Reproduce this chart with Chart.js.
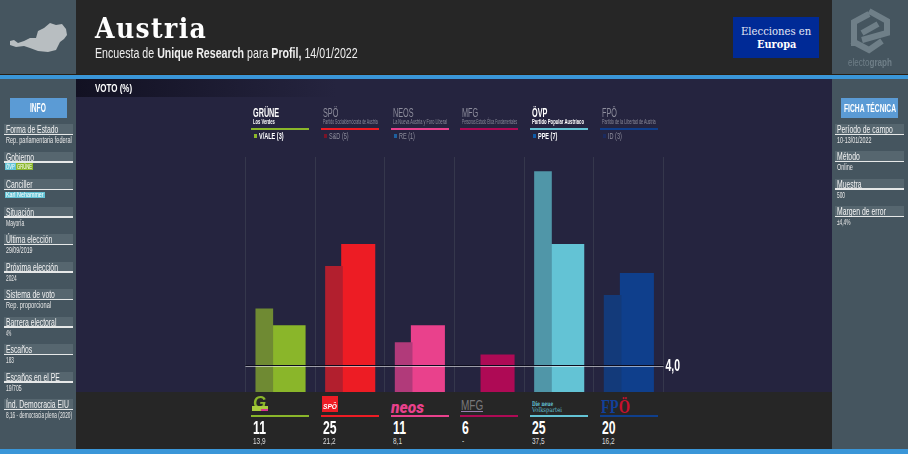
<!DOCTYPE html>
<html>
<head>
<meta charset="utf-8">
<script src="https://cdn.jsdelivr.net/npm/chart.js@4"></script>
<style>
html, body { margin: 0; padding: 0; background: #262626; }
#page { position: relative; width: 908px; height: 454px; overflow: hidden; font-family: "Liberation Sans", sans-serif; color: #fff; }
.box { position: absolute; }
.txt { position: absolute; white-space: nowrap; transform-origin: left center; }
canvas { position: absolute; left: 0; top: 0; }
svg { position: absolute; }
</style>
</head>
<body>
<div id="page">
  <div class="box" style="left:76px;top:79px;width:756px;height:313px;background:#25243f"></div>
  <div class="box" style="left:76px;top:79px;width:260px;height:18px;background:linear-gradient(90deg,#121122,#25243f)"></div>
  <canvas id="canvas" width="908" height="454"></canvas>
  <div class="box" style="left:76px;top:392px;width:756px;height:57px;background:#262626"></div>
  <div class="box" style="left:0;top:0;width:76px;height:449px;background:#45555f"></div>
  <div class="box" style="left:832px;top:0;width:76px;height:449px;background:#45555f"></div>
  <div class="box" style="left:0;top:74px;width:908px;height:1px;background:#2a1f12"></div>
  <div class="box" style="left:0;top:75px;width:908px;height:4px;background:#3a96d8"></div>
  <div class="box" style="left:0;top:449px;width:908px;height:5px;background:#3a96d8"></div>
  <svg style="left:0;top:0" width="76" height="75"><polygon fill="#b8bec1" points="10,41 14,40 18,43 24,41 30,38 36,38 38,31 44,28 50,23 56,25 62,24 66,29 67,35 64,39 60,42 56,50 48,52 38,51 30,48 24,46 16,47 10,45"/></svg>
  <svg style="left:832px;top:0" width="76" height="75"><path fill="none" stroke="#6f7f88" stroke-width="6" d="M37 11 L55 21 V33 L30 40 M22 46 V22 L37 14 M50 41 L37 50 L20 41 M30 33 L46 24"/></svg>
  <div class="box" style="left:733px;top:17px;width:86px;height:41px;background:#002a96"></div>
  <div id="labels"></div>
</div>
<script>
// chart data
var categories = ["GRÜNE", "SPÖ", "NEOS", "MFG", "ÖVP", "FPÖ"];
var currentVote = [11, 25, 11, 6, 25, 20];
var previousVote = [13.9, 21.2, 8.1, null, 37.5, 16.2];
var previousLabels = ["13,9", "21,2", "8,1", "-", "37,5", "16,2"];
var threshold = 4.0;
var thresholdLabel = "4,0";

var partyNames = ["Los Verdes", "Partido Socialdemócrata de Austria", "La Nueva Austria y Foro Liberal", "Personas Estado Ética Fundamentales", "Partido Popular Austríaco", "Partido de la Libertad de Austria"];
var euGroups = ["V/ALE (3)", "S&D (5)", "RE (1)", "", "PPE (7)", "ID (3)"];

var infoTitles = ["Forma de Estado", "Gobierno", "Canciller", "Situación", "Última elección", "Próxima elección", "Sistema de voto", "Barrera electoral", "Escaños", "Escaños en el PE", "Índ. Democracia EIU"];
var infoValues = ["Rep. parlamentaria federal", "", "", "Mayoría", "29/09/2019", "2024", "Rep. proporcional", "4%", "183", "19/705", "8,16 - democracia plena (2020)"];
var fichaTitles = ["Período de campo", "Método", "Muestra", "Margen de error"];
var fichaValues = ["10-13/01/2022", "Online", "500", "±4,4%"];

// colours per party
var currentColors = ["#8ab62a", "#ed1c24", "#e9418c", "#ae0a55", "#63c3d5", "#0f3f8c"];
var previousColors = ["#6f8a33", "#b21f2e", "#b13a7a", "#ae0a55", "#5096a8", "#133a7a"];
var euColors = ["#8ab62a", "#7a1428", "#1e5f9e", "", "#0f5ca8", "#1b2a5e"];

var page = document.getElementById("labels");

// k squeezes the text horizontally, the reference uses a condensed face
var addText = function(text, x, y, size, k, css){
    var el = document.createElement("div");
    el.className = "txt";
    el.textContent = text;
    el.style.cssText = "left:" + x + "px;top:" + (y - 10) + "px;line-height:20px;font-size:" + size + "px;transform:scaleX(" + k + ");" + (css || "");
    page.appendChild(el);
    return el;
};

var fitWidth = function(el, width){
    el.style.transform = "scaleX(" + (width / el.offsetWidth) + ")";
};

var addBox = function(x, y, w, h, color){
    var el = document.createElement("div");
    el.className = "box";
    el.style.cssText = "left:" + x + "px;top:" + y + "px;width:" + w + "px;height:" + h + "px;background:" + color;
    page.appendChild(el);
};

// header
addText("Austria", 95, 28.5, 27, 0.93, "font-family:'DejaVu Serif';font-weight:bold;letter-spacing:1.5px");
var sub = addText("", 95, 53, 15.5, 1, "color:#eee");
sub.innerHTML = "Encuesta de <b>Unique Research</b> para <b>Profil,</b> 14/01/2022";
fitWidth(sub, 263);
fitWidth(addText("VOTO (%)", 95, 88, 11, 1, "font-weight:bold"), 37);
fitWidth(addText("Elecciones en", 741, 31, 11.5, 1, "font-family:'DejaVu Serif';color:#e6e8f5"), 70);
fitWidth(addText("Europa", 757, 44, 11.5, 1, "font-family:'DejaVu Serif';font-weight:bold"), 39);
var brand = addText("", 848, 62, 11, 1, "color:#6f7f88");
brand.innerHTML = "electo<b>graph</b>";
fitWidth(brand, 44);

// sidebars
var addRows = function(titles, values, x, startY, step){
    titles.forEach(function(title, i){
        var y = startY + i * step;
        addBox(x - 1, y - 5, 69, 10, "#56666f");
        addBox(x - 1, y + 4.5, 69, 1.5, "#e6e8e8");
        addText(title, x + 1, y, 11, 0.62, "color:#f2f2f2");
        if (values[i]) fitWidth(addText(values[i], x + 1, y + 11, 9, 1, "color:#e8e8e8"), Math.min(66, values[i].length * 2.65));
    });
};
addBox(10, 98, 57, 20, "#5b9bd5");
fitWidth(addText("INFO", 30, 108, 12, 1, "font-weight:bold"), 16);
addRows(infoTitles, infoValues, 5, 129, 27.5);
addBox(5, 163, 11, 7, "#63c3d5");
addBox(16, 163, 17, 7, "#8ab62a");
fitWidth(addText("ÖVP", 6, 166.5, 7.5, 1), 9);
fitWidth(addText("GRÜNE", 17, 166.5, 7.5, 1), 15);
addBox(5, 192, 40, 6, "#63c3d5");
fitWidth(addText("Karl Nehammer", 6, 195, 7.5, 1), 38);

addBox(841, 98, 57, 20, "#5b9bd5");
fitWidth(addText("FICHA TÉCNICA", 844, 108, 11, 1, "font-weight:bold"), 52);
addRows(fichaTitles, fichaValues, 836, 129, 27.4);

// party headers and footer
var colX = [251, 321, 391, 460, 530, 600];
var nameWidths = [22, 55, 54, 55, 52, 54];
categories.forEach(function(name, i){
    var x = colX[i];
    var inGov = name == "GRÜNE" || name == "ÖVP";
    var col = inGov ? "#fff" : "#8d8d9c";
    var weight = inGov ? ";font-weight:bold" : "";
    addText(name, x + 2, 113, 12.5, 0.58, "color:" + col + weight);
    fitWidth(addText(partyNames[i], x + 2, 122, 6.5, 1, "color:" + col + weight), nameWidths[i]);
    addBox(x, 127.5, 58, 2, currentColors[i]);
    if (euGroups[i]) {
        addBox(x + 3, 134, 3, 4, euColors[i]);
        addText(euGroups[i], x + 8, 136, 8.5, 0.65, "color:" + col + weight);
    }
    addBox(x, 414.5, 58, 2, currentColors[i]);
    addText(String(currentVote[i]), x + 2, 428, 18, 0.68, "font-weight:bold");
    addText(previousLabels[i], x + 2, 441, 9, 0.72, "color:#ddd");
});

// party logos
addText("G", 253, 403, 17, 1, "font-weight:bold;font-style:italic;color:#8ab62a");
addBox(252, 406, 16, 5, "#a8cc3c");
addBox(261, 409, 7, 2, "#d8308c");
addBox(322, 396, 16, 16, "#ed1c24");
fitWidth(addText("SPÖ", 323, 407, 7.5, 1, "font-weight:bold;font-style:italic"), 14);
fitWidth(addText("neos", 391, 407, 17, 1, "font-family:Roboto;font-weight:900;font-style:italic;color:#e9418c"), 33);
fitWidth(addText("MFG", 461, 405, 15, 1, "color:#77777a"), 22);
addBox(461, 411, 22, 1, "#9a7fb0");
fitWidth(addText("Die neue", 532, 404, 6.5, 1, "font-family:'DejaVu Serif';font-weight:bold;color:#63c3d5"), 21);
fitWidth(addText("Volkspartei", 532, 410, 6.5, 1, "font-family:'DejaVu Serif';color:#63c3d5"), 30);
var fpo = addText("", 601, 407, 18, 1, "font-family:'Liberation Serif';font-weight:bold;color:#12409a");
fpo.innerHTML = 'FP<span style="color:#c8102e">Ö</span>';
fitWidth(fpo, 29);

// threshold line and its label
var thresholdPlugin = {
    id: "threshold",
    afterDatasetsDraw: function(chart){
        var ctx = chart.ctx;
        var y = Math.round(chart.scales.y.getPixelForValue(threshold));
        ctx.save();
        ctx.fillStyle = "#0c0c1e";
        ctx.fillRect(chart.chartArea.left, y - 1, chart.chartArea.width, 1);
        ctx.fillStyle = "rgba(255,255,255,0.55)";
        ctx.fillRect(chart.chartArea.left, y, chart.chartArea.width, 1);
        ctx.fillStyle = "#fff";
        ctx.font = "bold 16px 'Liberation Sans'";
        ctx.textBaseline = "middle";
        ctx.translate(chart.chartArea.right + 2, y + 1);
        ctx.scale(0.65, 1);
        ctx.fillText(thresholdLabel, 0, 0);
        ctx.restore();
    }
};

var toPoints = function(values){
    return values.map(function(v, i){ return {x: i, y: v}; });
};

var hiddenX = function(shift){
    return {
        type: "linear", display: false,
        min: -0.5 - shift, max: 5.5 - shift,
        afterBuildTicks: function(scale){ scale.ticks = []; }
    };
};

var ctx = document.getElementById("canvas").getContext("2d");
var chart = new Chart(ctx, {
    type: "bar",
    data: {
        labels: categories,
        datasets: [
            {label: "Anterior", data: toPoints(previousVote), backgroundColor: previousColors, xAxisID: "xOld", barThickness: 17, grouped: false, base: -0.4},
            {label: "Encuesta", data: toPoints(currentVote), backgroundColor: currentColors, xAxisID: "xNew", barThickness: 33.4, grouped: false, base: -0.4}
        ]
    },
    options: {
        responsive: false,
        animation: false,
        events: [],
        layout: {padding: {left: 245.5, right: 244.5, top: 157, bottom: 62}},
        plugins: {legend: {display: false}, tooltip: {enabled: false}},
        scales: {
            x: {
                type: "category", offset: true,
                ticks: {display: false},
                border: {display: false},
                grid: {offset: true, drawTicks: false, color: "#35374c", lineWidth: 1}
            },
            xOld: hiddenX(-0.23),
            xNew: hiddenX(0.118),
            y: {min: -0.4, max: 40, display: false}
        }
    },
    plugins: [thresholdPlugin]
});
</script>
</body>
</html>
